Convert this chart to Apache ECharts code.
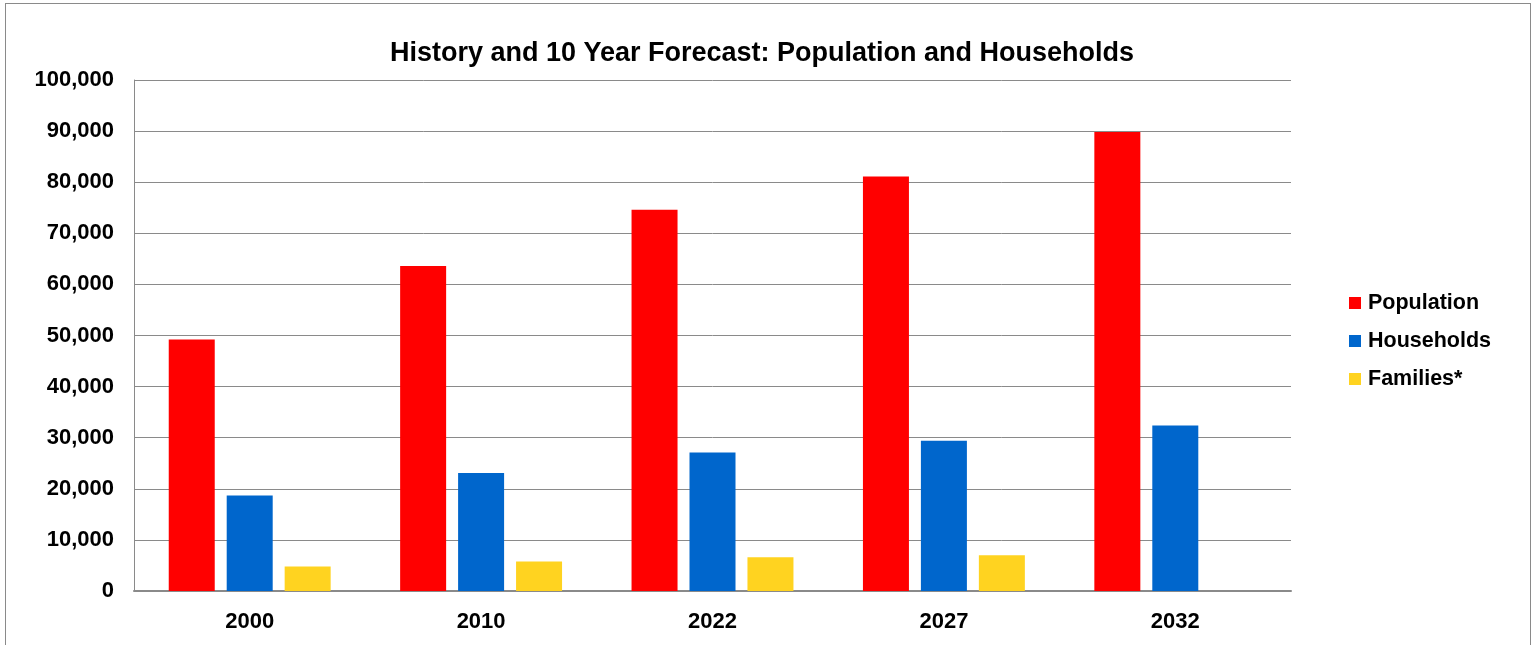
<!DOCTYPE html>
<html>
<head>
<meta charset="utf-8">
<script src="https://cdn.jsdelivr.net/npm/echarts@6/dist/echarts.min.js"></script>
<style>
html,body{margin:0;padding:0;background:#fff;}
#frame{position:absolute;left:5px;top:3px;width:1526px;height:660px;border:1px solid #8a8a8a;box-sizing:border-box;}
#chart{position:absolute;left:0;top:0;width:1538px;height:645px;}
</style>
</head>
<body>
<div id="frame"></div>
<div id="chart"></div>
<script>
var categories = ['2000', '2010', '2022', '2027', '2032'];
var population = [49200, 63600, 74600, 81100, 89800];
var households = [18700, 23100, 27100, 29400, 32400];
var families = [4800, 5750, 6600, 7000, null];
var yTicks = [0, 10000, 20000, 30000, 40000, 50000, 60000, 70000, 80000, 90000, 100000];

var font = 'Liberation Sans, Arial, sans-serif';
var chart = echarts.init(document.getElementById('chart'));
chart.setOption({
  animation: false,
  title: {
    text: 'History and 10 Year Forecast: Population and Households',
    left: 757, top: 35, textAlign: 'center',
    textStyle: {fontFamily: font, fontWeight: 'bold', fontSize: 27, color: '#000'}
  },
  legend: {
    orient: 'vertical', left: 1344, top: 287, itemGap: 16,
    itemWidth: 12, itemHeight: 12, icon: 'rect',
    textStyle: {fontFamily: font, fontWeight: 'bold', fontSize: 21.5, color: '#000', padding: [0,0,0,2]},
    data: ['Population', 'Households', 'Families*']
  },
  grid: {left: 134, right: 247, top: 80, bottom: 54, containLabel: false},
  xAxis: {
    type: 'category', data: categories,
    axisLine: {lineStyle: {color: '#8a8a8a', width: 2}},
    axisTick: {show: false},
    axisLabel: {fontFamily: font, fontWeight: 'bold', fontSize: 22, color: '#000', margin: 20}
  },
  yAxis: {
    type: 'value', min: yTicks[0], max: yTicks[yTicks.length-1], interval: 10000,
    axisLine: {show: true, lineStyle: {color: '#8a8a8a', width: 1}},
    axisTick: {show: false},
    splitLine: {lineStyle: {color: '#8a8a8a', width: 1}},
    axisLabel: {fontFamily: font, fontWeight: 'bold', fontSize: 22, color: '#000', margin: 20,
      formatter: function(v){ return v.toLocaleString('en-US'); }}
  },
  series: [
    {name: 'Population', type: 'bar', data: population, barWidth: 46, barGap: '26%', itemStyle: {color: '#FF0000'}},
    {name: 'Households', type: 'bar', data: households, barWidth: 46, barGap: '26%', itemStyle: {color: '#0066CC'}},
    {name: 'Families*', type: 'bar', data: families, barWidth: 46, barGap: '26%', itemStyle: {color: '#FFD320'}}
  ]
});
</script>
</body>
</html>
